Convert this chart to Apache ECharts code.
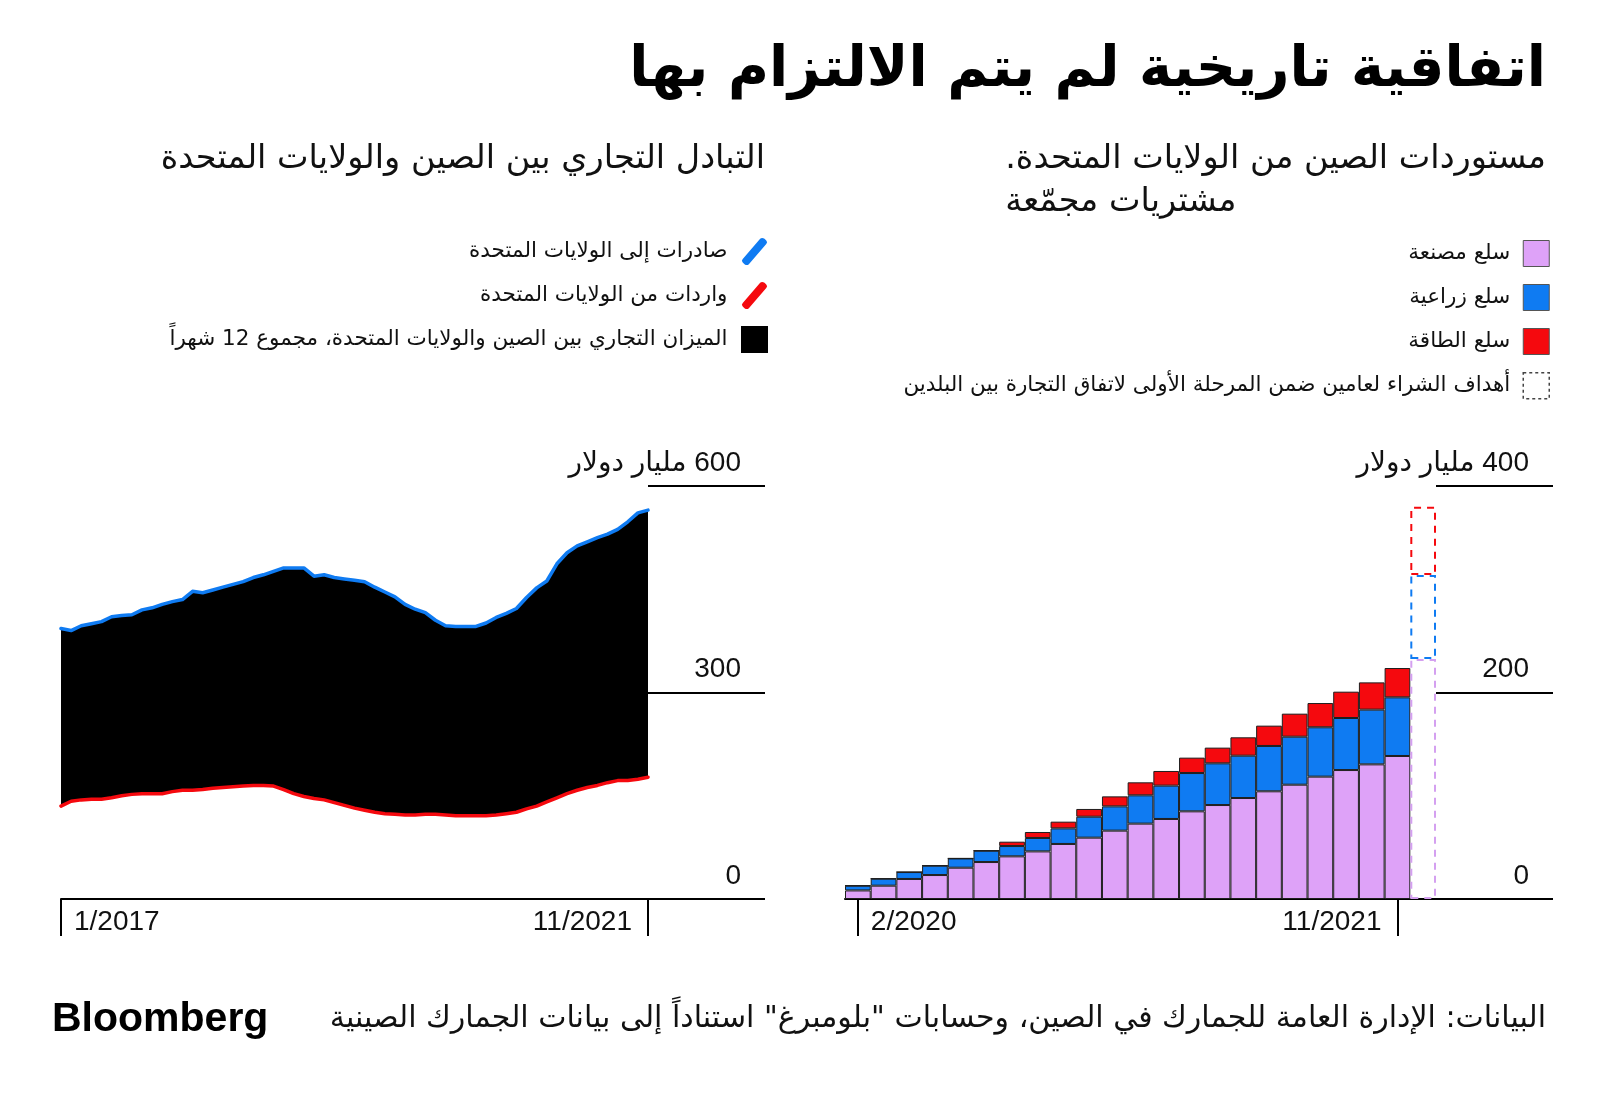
<!DOCTYPE html>
<html><head><meta charset="utf-8">
<script src="https://cdn.jsdelivr.net/npm/echarts@6/dist/echarts.min.js"></script>
<style>html,body{margin:0;padding:0;background:#fff}#c{width:1600px;height:1100px;direction:rtl}</style>
</head><body><div id="c" dir="rtl"></div>
<script>
// ---------- data ----------
const tradeMonths = ['1/2017','2/2017','3/2017','4/2017','5/2017','6/2017','7/2017','8/2017','9/2017','10/2017','11/2017','12/2017',
 '1/2018','2/2018','3/2018','4/2018','5/2018','6/2018','7/2018','8/2018','9/2018','10/2018','11/2018','12/2018',
 '1/2019','2/2019','3/2019','4/2019','5/2019','6/2019','7/2019','8/2019','9/2019','10/2019','11/2019','12/2019',
 '1/2020','2/2020','3/2020','4/2020','5/2020','6/2020','7/2020','8/2020','9/2020','10/2020','11/2020','12/2020',
 '1/2021','2/2021','3/2021','4/2021','5/2021','6/2021','7/2021','8/2021','9/2021','10/2021','11/2021'];
const exportsToUS = [393,390,397,400,403,410,412,413,420,423,428,432,435,447,445,449,453,457,461,467,471,476,481,481,481,469,471,467,465,463,461,453,446,439,428,421,416,405,397,396,396,396,401,409,415,422,438,452,462,487,503,513,519,525,530,537,548,561,565];
const importsFromUS = [135,142,144,145,145,147,150,152,153,153,153,156,158,158,159,161,162,163,164,165,165,164,159,153,149,146,144,140,136,132,129,126,124,123,122,122,123,123,122,121,121,121,121,122,124,126,131,135,141,147,153,158,162,165,169,172,172,174,177];
const tradeTickLabels = ['1/2017','11/2021'];
const tradeYTicks = [0,300,600];

const purchaseMonths = ['2/2020','3/2020','4/2020','5/2020','6/2020','7/2020','8/2020','9/2020','10/2020','11/2020','12/2020',
 '1/2021','2/2021','3/2021','4/2021','5/2021','6/2021','7/2021','8/2021','9/2021','10/2021','11/2021'];
const targetCategory = 'الهدف';
const manufactured = [8.3,12.9,19.4,23.2,30.3,35.8,41.3,46.1,53.3,59.4,66.2,73.0,77.5,84.9,91.0,97.8,104.3,110.7,118.5,124.9,130.4,138.5];
const agricultural = [4.6,6.8,6.7,9.1,9.0,11.0,10.0,13.0,15.1,20.3,23.5,27.4,32.3,37.1,40.4,41.0,43.9,46.5,47.8,50.4,53.0,56.8];
const energy = [0,0,0,0,0,0,4.2,5.8,6.5,7.5,9.7,12.6,14.2,14.9,15.2,17.8,19.7,22.3,23.5,25.5,26.4,28.4];
const targetManufactured = 232.4;
const targetAgricultural = 81.4;
const targetEnergy = 66.2;
const purchaseTickLabels = ['2/2020','11/2021'];
const purchaseYTicks = [0,200,400];

// ---------- text ----------
const mainTitle = 'اتفاقية تاريخية لم يتم الالتزام بها';
const leftSubtitle = 'التبادل التجاري بين الصين والولايات المتحدة';
const rightSubtitle = 'مستوردات الصين من الولايات المتحدة.\nمشتريات مجمّعة';
const nameExports = 'صادرات إلى الولايات المتحدة';
const nameImports = 'واردات من الولايات المتحدة';
const nameBalance = 'الميزان التجاري بين الصين والولايات المتحدة، مجموع 12 شهراً';
const nameManuf = 'سلع مصنعة';
const nameAgri = 'سلع زراعية';
const nameEnergy = 'سلع الطاقة';
const nameTarget = 'أهداف الشراء لعامين ضمن المرحلة الأولى لاتفاق التجارة بين البلدين';
const unitText = 'مليار دولار';
const sourceText = 'البيانات: الإدارة العامة للجمارك في الصين، وحسابات "بلومبرغ" استناداً إلى بيانات الجمارك الصينية';

// ---------- style ----------
const FONT = "'Liberation Sans', 'DejaVu Sans', sans-serif";
const AFONT = "'DejaVu Sans', sans-serif";
const BLUE = '#0f7bf2', RED = '#f5090e', PURPLE = '#dea2f8', PURPLE_D = '#d4a0f0', BORDER = '#1e1e1e';
const SLASH = 'path://M1,24 L21,1 Q23,-1 26,1 L28,3 Q30,5 28,7 L8,30 Q6,32 3,30 L1,28 Q-1,26 1,24 Z';

const G_TOP = 486, G_H = 413;

function mkCatData(labels, first, last, ticks) {
  return labels.map((m, i) => {
    if (m === ticks[0] && i === first) return {value: m, textStyle: {align: 'left', padding: [0, 0, 0, 13]}};
    if (m === ticks[1] && i === last) return {value: m, textStyle: {align: 'right', padding: [0, 16, 0, 0]}};
    return m;
  });
}
const leftLast = tradeMonths.length - 1;
const rightLast = purchaseMonths.length - 1;
const rightCats = purchaseMonths.concat([targetCategory]);

function yLabelAxis(grid, ticks) {
  const mx = ticks[ticks.length - 1];
  return {
    type: 'value', gridIndex: grid, position: 'right', min: ticks[0], max: mx, interval: ticks[1] - ticks[0],
    axisLine: {show: false}, axisTick: {show: false},
    splitLine: {show: true, lineStyle: {color: '#000', width: 2}},
    axisLabel: {inside: true, margin: 24, verticalAlign: 'bottom', padding: [0, 0, 9, 0],
      fontSize: 28, color: '#111', fontFamily: FONT,
      formatter: v => v === mx ? v + ' ' + unitText : String(v)}
  };
}

const chart = echarts.init(document.getElementById('c'), null, {renderer: 'canvas'});
const option = {
  backgroundColor: '#fff',
  animation: false,
  title: [
    {text: mainTitle, right: 54, top: 36, padding: 0,
      textStyle: {fontSize: 56, fontWeight: 'bold', fontFamily: AFONT, color: '#000', lineHeight: 70}},
    {text: leftSubtitle, right: 835, top: 139, padding: 0,
      textStyle: {fontSize: 33.5, fontWeight: 'normal', fontFamily: AFONT, color: '#111', lineHeight: 41}},
    {text: rightSubtitle, right: 54, top: 138, padding: 0,
      textStyle: {fontSize: 33.5, fontWeight: 'normal', fontFamily: AFONT, color: '#111', lineHeight: 43}},
    {text: sourceText, right: 54, top: 1002, padding: 0,
      textStyle: {fontSize: 30, fontWeight: 'normal', fontFamily: AFONT, color: '#111', lineHeight: 35}},
    {text: 'Bloomberg', left: 52, top: 997, padding: 0,
      textStyle: {fontSize: 41, fontWeight: 'bold', fontFamily: "'Liberation Sans', sans-serif", color: '#000', lineHeight: 46}}
  ],
  legend: [
    {orient: 'vertical', align: 'right', right: 832, top: 238, itemWidth: 28, itemHeight: 27, itemGap: 17,
      selectedMode: false, padding: 0,
      textStyle: {fontSize: 21.5, fontFamily: AFONT, color: '#111', padding: [0, 8, 0, 0]},
      data: [
        {name: nameExports, icon: SLASH, itemStyle: {color: BLUE, borderWidth: 0}},
        {name: nameImports, icon: SLASH, itemStyle: {color: RED, borderWidth: 0}},
        {name: nameBalance, icon: 'path://M0,0 L24,0 L24,24 L0,24 Z', itemStyle: {color: '#000', borderWidth: 0}}
      ]},
    {orient: 'vertical', align: 'right', right: 50, top: 240, itemWidth: 26, itemHeight: 26, itemGap: 17,
      selectedMode: false, padding: 0,
      textStyle: {fontSize: 21.5, fontFamily: AFONT, color: '#111', padding: [0, 8, 0, 0]},
      data: [
        {name: nameManuf, icon: 'rect', itemStyle: {color: PURPLE, borderColor: '#555', borderWidth: 1}},
        {name: nameAgri, icon: 'rect', itemStyle: {color: BLUE, borderColor: '#555', borderWidth: 1}},
        {name: nameEnergy, icon: 'rect', itemStyle: {color: RED, borderColor: '#555', borderWidth: 1}},
        {name: nameTarget, icon: 'rect', itemStyle: {color: 'rgba(0,0,0,0)', borderColor: '#444', borderWidth: 1.5, borderType: [3, 3]}}
      ]}
  ],
  grid: [
    {left: 61, top: G_TOP, width: 587, height: G_H},
    {left: 648, top: G_TOP, width: 117, height: G_H},
    {left: 845, top: G_TOP, width: 591, height: G_H},
    {left: 1436, top: G_TOP, width: 117, height: G_H}
  ],
  xAxis: [
    {type: 'category', gridIndex: 0, boundaryGap: false, data: mkCatData(tradeMonths, 0, leftLast, tradeTickLabels),
      axisLine: {show: true, lineStyle: {color: '#000', width: 2}},
      axisTick: {show: true, interval: (i) => i === 0 || i === leftLast, length: 37, lineStyle: {color: '#000', width: 2}},
      axisLabel: {interval: (i) => i === 0 || i === leftLast, margin: 9, fontSize: 28, color: '#111', fontFamily: FONT}},
    {type: 'value', gridIndex: 1, show: false, min: 0, max: 1},
    {type: 'category', gridIndex: 2, boundaryGap: true, data: mkCatData(rightCats, 0, rightLast, purchaseTickLabels),
      axisLine: {show: true, lineStyle: {color: '#000', width: 2}},
      axisTick: {show: true, alignWithLabel: true, interval: (i) => i === 0 || i === rightLast, length: 37, lineStyle: {color: '#000', width: 2}},
      axisLabel: {interval: (i) => i === 0 || i === rightLast, margin: 9, fontSize: 28, color: '#111', fontFamily: FONT}},
    {type: 'value', gridIndex: 3, show: false, min: 0, max: 1}
  ],
  yAxis: [
    {type: 'value', gridIndex: 0, min: tradeYTicks[0], max: tradeYTicks[2], show: false},
    yLabelAxis(1, tradeYTicks),
    {type: 'value', gridIndex: 2, min: purchaseYTicks[0], max: purchaseYTicks[2], show: false},
    yLabelAxis(3, purchaseYTicks)
  ],
  series: [
    {type: 'line', name: 'base', xAxisIndex: 0, yAxisIndex: 0, stack: 'bal', data: importsFromUS, symbol: 'none',
      lineStyle: {width: 0, opacity: 0}, silent: true, z: 1},
    {type: 'line', name: nameBalance, xAxisIndex: 0, yAxisIndex: 0, stack: 'bal',
      data: exportsToUS.map((v, i) => v - importsFromUS[i]), symbol: 'none',
      lineStyle: {width: 0, opacity: 0}, itemStyle: {color: '#000'}, areaStyle: {color: '#000', opacity: 1}, z: 2},
    {type: 'line', name: nameExports, xAxisIndex: 0, yAxisIndex: 0, data: exportsToUS, symbol: 'none',
      lineStyle: {color: BLUE, width: 3.5, join: 'round', cap: 'round'}, itemStyle: {color: BLUE}, z: 3},
    {type: 'line', name: nameImports, xAxisIndex: 0, yAxisIndex: 0, data: importsFromUS, symbol: 'none',
      lineStyle: {color: RED, width: 3.5, join: 'round', cap: 'round'}, itemStyle: {color: RED}, z: 3},

    {type: 'bar', name: nameManuf, xAxisIndex: 2, yAxisIndex: 2, stack: 'p', barCategoryGap: 0,
      data: manufactured.concat(['-']), itemStyle: {color: PURPLE, borderColor: BORDER, borderWidth: 1}},
    {type: 'bar', name: nameAgri, xAxisIndex: 2, yAxisIndex: 2, stack: 'p', barCategoryGap: 0,
      data: agricultural.concat(['-']), itemStyle: {color: BLUE, borderColor: BORDER, borderWidth: 1}},
    {type: 'bar', name: nameEnergy, xAxisIndex: 2, yAxisIndex: 2, stack: 'p', barCategoryGap: 0,
      data: energy.concat(['-']), itemStyle: {color: RED, borderColor: BORDER, borderWidth: 1}},
    {type: 'bar', name: nameTarget, xAxisIndex: 2, yAxisIndex: 2, stack: 'p', barCategoryGap: 0,
      data: purchaseMonths.map(() => '-').concat([targetManufactured]),
      itemStyle: {color: 'rgba(0,0,0,0)', borderColor: PURPLE_D, borderWidth: 2, borderType: [7, 6]}},
    {type: 'bar', name: 'target-agri', xAxisIndex: 2, yAxisIndex: 2, stack: 'p', barCategoryGap: 0,
      data: purchaseMonths.map(() => '-').concat([targetAgricultural]),
      itemStyle: {color: 'rgba(0,0,0,0)', borderColor: BLUE, borderWidth: 2, borderType: [7, 6]}},
    {type: 'bar', name: 'target-energy', xAxisIndex: 2, yAxisIndex: 2, stack: 'p', barCategoryGap: 0,
      data: purchaseMonths.map(() => '-').concat([targetEnergy]),
      itemStyle: {color: 'rgba(0,0,0,0)', borderColor: RED, borderWidth: 2, borderType: [7, 6]}}
  ]
};
chart.setOption(option);
</script></body></html>
